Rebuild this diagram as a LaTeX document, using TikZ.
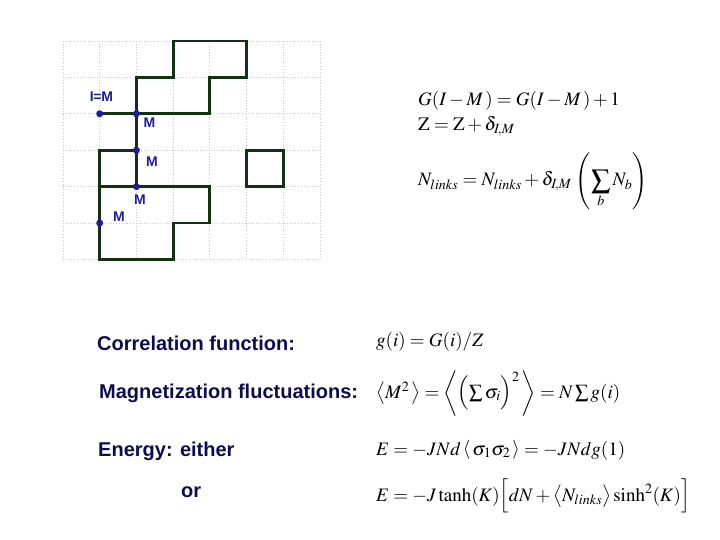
\documentclass[tikz,border=0pt]{standalone}
\usepackage{fontspec}
\usepackage{amsmath}
\usepackage{mathptmx}
\setsansfont{Liberation Sans}
\definecolor{pathgreen}{HTML}{123012}
\definecolor{dotblue}{HTML}{1C1C9C}
\definecolor{navy}{HTML}{0C0C50}
\definecolor{gridgray}{HTML}{C8C8C8}
\tikzset{
  gridline/.style={gridgray, line width=0.8pt, dotted},
  loopline/.style={pathgreen, line width=2.8pt, line join=miter, line cap=rect},
  spin/.style={circle, fill=dotblue, inner sep=0pt, minimum size=7pt},
  mlabel/.style={text=dotblue, font=\sffamily\bfseries\fontsize{14}{14}\selectfont, inner sep=0pt},
  caption/.style={text=navy, font=\sffamily\bfseries\fontsize{20}{24}\selectfont, anchor=base west, inner sep=0pt},
  eq/.style={anchor=base west, inner sep=0pt, font=\fontsize{19}{22}\selectfont}
}
\begin{document}
\begin{tikzpicture}[x=1pt,y=-1pt]
\useasboundingbox (0,0) rectangle (720,540);
\begin{scope}[shift={(63,41)}, x=36.71pt, y=-36.4pt]
  \foreach \i in {0,...,7} \draw[gridline] (\i,0) -- (\i,6);
  \foreach \j in {0,...,6} \draw[gridline] (0,\j) -- (7,\j);
  \draw[loopline] (2,2) -- (2,1) -- (3,1) -- (3,0) -- (5,0) -- (5,1) -- (4,1) -- (4,2) -- cycle;
  \draw[loopline] (1,2) -- (2,2) -- (2,4);
  \draw[loopline] (2,3) -- (1,3) -- (1,6) -- (3,6) -- (3,5) -- (4,5) -- (4,4) -- (1,4);
  \draw[loopline] (5,3) rectangle (6,4);
  \node[spin] (s1) at (1,2) {};
  \node[spin] (s2) at (2,2) {};
  \node[spin] (s3) at (2,3) {};
  \node[spin] (s4) at (2,4) {};
  \node[spin] (s5) at (1,5) {};
\end{scope}
\node[mlabel] (l0) at (101.5,97) {I\kern-0.5pt=M};
\node[mlabel] (l1) at (149.5,122.5) {M};
\node[mlabel] (l2) at (152,162) {M};
\node[mlabel] (l3) at (140,199.5) {M};
\node[mlabel] (l4) at (119,217) {M};

\node[eq] (e1) at (418,106) {$G(I-M\,)=G(I-M\,)+1$};
\node[eq] (e2) at (418,131) {$\mathrm{Z}=\mathrm{Z}+\delta_{I\!,M}$};
\node[eq] (e3) at (418,186) {$N_{links}=N_{links}+\delta_{I\!,M}\,\left(\displaystyle\sum_b N_b\right)$};

\node[caption] (c1) at (97,350) {Correlation function:};
\node[caption] (c2) at (99,398) {Magnetization fluctuations:};
\node[caption] (c3) at (98,456) {Energy: either};
\node[caption] (c4) at (181,497) {or};

\node[eq] (e4) at (376,346) {$g(i)=G(i)/Z$};
\node[eq] (e5) at (376,398) {$\left\langle M^2\,\right\rangle=\left\langle\Bigl(\sum\sigma_i\Bigr)^{2}\,\right\rangle=N\sum g(i)$};
\node[eq] (e6) at (376,455) {$E=-JNd\left\langle\,\sigma_1\sigma_2\,\right\rangle=-JNdg(1)$};
\node[eq] (e7) at (376,501) {$E=-J\tanh(K)\Bigl[dN+\bigl\langle N_{links}\bigr\rangle\sinh^2(K)\Bigr]$};
\end{tikzpicture}
\end{document}
